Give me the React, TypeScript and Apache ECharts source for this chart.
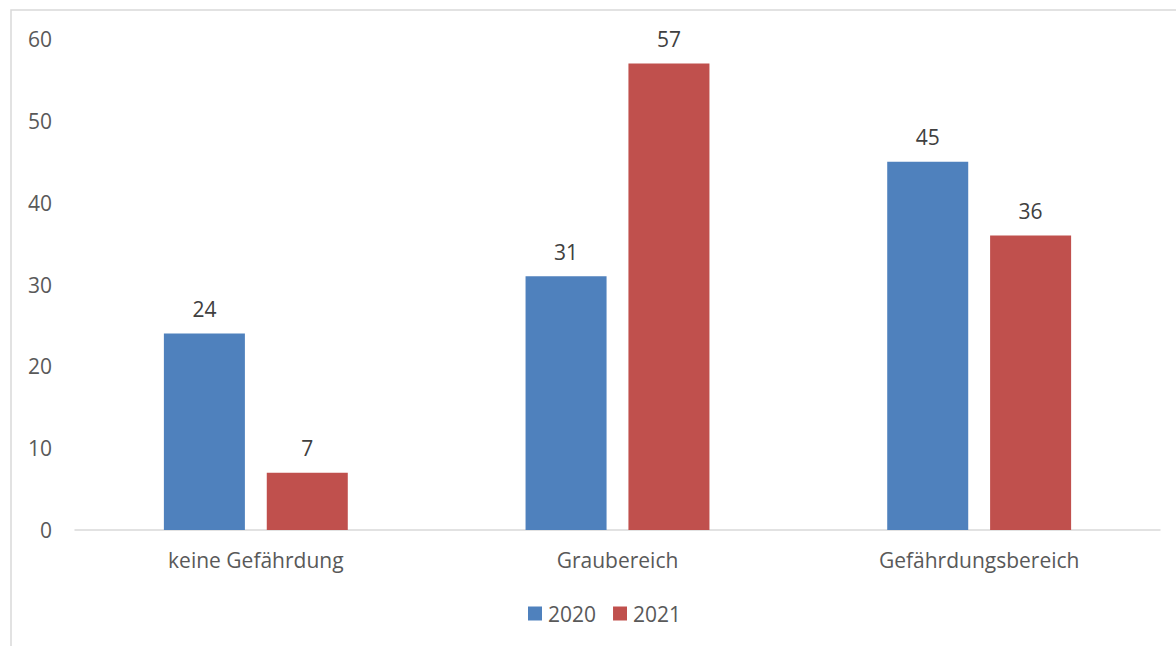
import React, { useEffect, useRef } from "react";
import * as echarts from "echarts";

const categories = ["keine Gefährdung", "Graubereich", "Gefährdungsbereich"];
const values2020 = [24, 31, 45];
const values2021 = [7, 57, 36];
const seriesNames = ["2020", "2021"];

export default function App() {
  const ref = useRef<HTMLDivElement>(null);
  useEffect(() => {
    document.body.style.margin = "0";
    const chart = echarts.init(ref.current!, null, { renderer: "svg" });
    const font = "'Open Sans', sans-serif";
    const textColor = "#595959";
    const fs = 21;
    chart.setOption({
      animation: false,
      backgroundColor: "#ffffff",
      textStyle: { fontFamily: font },
      graphic: [
        {
          type: "rect",
          shape: { x: 11, y: 10, width: 1300, height: 800 },
          style: { fill: "none", stroke: "#d9d9d9", lineWidth: 1.5 },
          silent: true,
        },
      ],
      grid: { left: 75, right: 16, top: 39, bottom: 116, containLabel: false },
      legend: {
        bottom: 22,
        left: 528,
        padding: 0,
        itemWidth: 14,
        itemHeight: 14,
        itemGap: 17,
        icon: "rect",
        textStyle: { color: textColor, fontSize: fs, fontFamily: font, padding: [0, 0, 0, 1] },
        data: seriesNames,
      },
      xAxis: {
        type: "category",
        data: categories,
        axisLine: { lineStyle: { color: "#d9d9d9", width: 1.5 } },
        axisTick: { show: false },
        axisLabel: { color: textColor, fontSize: fs, margin: 19, fontFamily: font },
      },
      yAxis: {
        type: "value",
        min: 0,
        max: 60,
        interval: 10,
        axisLine: { show: false },
        axisTick: { show: false },
        splitLine: { show: false },
        axisLabel: { color: textColor, fontSize: fs, margin: 23, fontFamily: font },
      },
      series: [
        {
          name: seriesNames[0],
          type: "bar",
          data: values2020,
          barWidth: "22.4%",
          barGap: "27%",
          itemStyle: { color: "#4F81BD" },
          label: { show: true, position: "top", distance: 14, color: "#404040", fontSize: fs, fontFamily: font },
        },
        {
          name: seriesNames[1],
          type: "bar",
          data: values2021,
          barWidth: "22.4%",
          itemStyle: { color: "#C0504D" },
          label: { show: true, position: "top", distance: 14, color: "#404040", fontSize: fs, fontFamily: font },
        },
      ],
    });
    return () => chart.dispose();
  }, []);
  return <div ref={ref} style={{ width: 1176, height: 646 }} />;
}
